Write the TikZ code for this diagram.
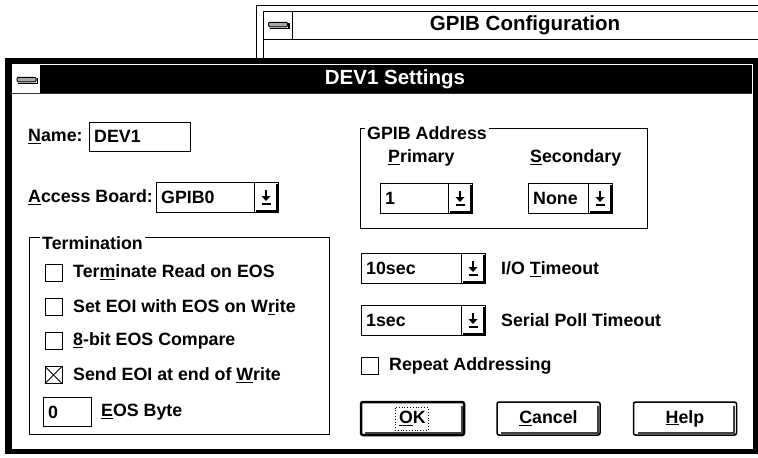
\documentclass[tikz,border=0pt]{standalone}
\usepackage{fontspec}
\setmainfont{Liberation Sans}
\usetikzlibrary{calc}
\newcommand\mn[1]{\underline{#1}}
\newcommand\uitext{\fontsize{17.8}{20}\selectfont\bfseries}
\newcommand\titletext{\fontsize{20.5}{24}\selectfont\bfseries}
\newcommand\dropbtn[1]{%
  \draw[line width=2pt] ($(#1.north east)+(-1,2)$) -- ($(#1.south east)+(-1,-1)$) -- ($(#1.south west)+(2,-1)$);
  \fill ($(#1.center)+(-4.5,-1)$) -- ($(#1.center)+(4.5,-1)$) -- ($(#1.center)+(0,4)$) -- cycle;
  \draw[line width=2pt] ($(#1.center)+(0,-7)$) -- ($(#1.center)+(0,0)$);
  \draw[line width=1.5pt] ($(#1.center)+(-4.5,7)$) -- ($(#1.center)+(4.5,7)$);
}
\newcommand\combo[5]{%
  \node[field, anchor=north west, minimum width=#4pt, minimum height=30pt] (#1) at (#2,#3) {};
  \node[txt] (#1-txt) at ($(#1.west)+(5,0)$) {#5};
  \node[field, anchor=north east, minimum width=24pt, minimum height=30pt] (#1-btn) at (#1.north east) {};
  \dropbtn{#1-btn}
}
\newcommand\btnshadow[1]{%
  \draw[line width=2pt, black!75] ($(#1.north east)+(-2.5,4)$) -- ($(#1.south east)+(-2.5,-2.5)$) -- ($(#1.south west)+(4,-2.5)$);
}
\begin{document}
\begin{tikzpicture}[x=1pt,y=-1pt,
  txt/.style={font=\uitext, anchor=west, inner sep=0pt},
  field/.style={draw, line width=1pt, fill=white, inner sep=0pt, outer sep=0pt},
  chk/.style={draw, line width=1pt, fill=white, minimum size=17pt, inner sep=0pt, outer sep=0pt},
  grp/.style={draw, line width=1pt},
  glabel/.style={font=\uitext, anchor=west, fill=white, inner xsep=2pt, inner ysep=1pt},
  pbtn/.style={draw, line width=1.5pt, rounded corners=2pt, fill=white, font=\uitext, minimum width=103pt, minimum height=33pt, inner sep=0pt, outer sep=0pt},
  sysicon/.style={draw, line width=1pt, fill=black!35, rounded corners=1pt, minimum width=19pt, minimum height=4.5pt, inner sep=0pt},
]
\useasboundingbox (0,0) rectangle (758,458);
\fill[white] (0,0) rectangle (758,458);

% ---------- background window: GPIB Configuration ----------
\draw[line width=1.2pt] (256.5,60) -- (256.5,5.5) -- (758,5.5);
\draw[line width=1.2pt] (263.5,60) -- (263.5,11.5) -- (758,11.5);
\draw[line width=1pt] (263.5,39.5) -- (758,39.5);
\draw[line width=1pt] (292.5,11.5) -- (292.5,39.5);
\node[sysicon] (bgsys) at (278,24.5) {};
\draw[line width=1.5pt] ($(bgsys.south west)+(1.5,1)$) -- ($(bgsys.south east)+(1,1)$) -- ($(bgsys.north east)+(1,1)$);
\node[font=\titletext, inner sep=0pt] (bgtitle) at (525,25) {GPIB Configuration};

% ---------- DEV1 Settings window ----------
\fill[black] (5,58) rectangle (758,454);
\fill[white] (12,64) rectangle (753,449);
\fill[black] (40,65) rectangle (752,93);
\draw[line width=1pt, black!80] (12,93.5) -- (752,93.5);
\node[sysicon] (sys) at (26.5,79.5) {};
\draw[line width=1.5pt] ($(sys.south west)+(1.5,1)$) -- ($(sys.south east)+(1,1)$) -- ($(sys.north east)+(1,1)$);
\node[font=\titletext, text=white, inner sep=0pt] (title) at (395,79.5) {DEV1 Settings};

% Name
\node[txt] (namelbl) at (28,136.5) {\mn{N}ame:};
\node[field, anchor=north west, minimum width=101pt, minimum height=29pt] (namebox) at (89,122) {};
\node[txt] (nametxt) at (94,136.5) {DEV1};

% Access board
\node[txt] (acclbl) at (28,197) {\mn{A}ccess Board:};
\combo{acc}{156}{182}{122}{GPIB0}

% Termination group
\draw[grp] (29.5,237.5) rectangle (329.5,434.5);
\node[glabel] (termlbl) at (40,243) {Termination};
\node[chk, anchor=west] (c1) at (45,272.5) {};
\node[txt] (t1) at (73,272.5) {Ter\mn{m}inate Read on EOS};
\node[chk, anchor=west] (c2) at (45,307) {};
\node[txt] (t2) at (73,307) {Set EOI with EOS on W\mn{r}ite};
\node[chk, anchor=west] (c3) at (45,341) {};
\node[txt] (t3) at (73,341) {\mn{8}-bit EOS Compare};
\node[chk, anchor=west] (c4) at (45,375) {};
\draw[line width=0.8pt] (c4.north west) -- (c4.south east) (c4.north east) -- (c4.south west);
\node[txt] (t4) at (73,375) {Send EOI at end of \mn{W}rite};
\node[field, anchor=west, minimum width=48pt, minimum height=29pt] (eosbox) at (43,412) {};
\node[txt] (eostxt) at (48,412) {0};
\node[txt] (eoslbl) at (101,412) {\mn{E}OS Byte};

% GPIB Address group
\draw[grp] (360.5,128.5) rectangle (647.5,228.5);
\node[glabel] (gpiblbl) at (365,133) {GPIB Address};
\node[txt] (primlbl) at (388,158) {\mn{P}rimary};
\node[txt] (seclbl) at (530,158) {\mn{S}econdary};
\combo{prim}{380}{183}{92}{1}
\combo{sec}{528}{183}{84}{None}

% Timeouts
\combo{iot}{361}{253}{124}{10sec}
\node[txt] (iotlbl) at (501,269) {I/O \mn{T}imeout};
\combo{spt}{361}{305}{124}{1sec}
\node[txt] (sptlbl) at (501,320) {Serial Poll Timeout};

% Repeat addressing
\node[chk, anchor=west] (rep) at (361,366) {};
\node[txt] (replbl) at (389,366) {Repeat Addressing};

% Buttons
\node[pbtn, line width=2.5pt] (ok) at (412.5,418.5) {\mn{O}K};
\btnshadow{ok}
\draw[line width=0.8pt, dotted] (395,407.5) rectangle (428,430);
\node[pbtn] (cancel) at (548.5,418.5) {\mn{C}ancel};
\btnshadow{cancel}
\node[pbtn] (help) at (685,418.5) {\mn{H}elp};
\btnshadow{help}
\end{tikzpicture}
\end{document}
